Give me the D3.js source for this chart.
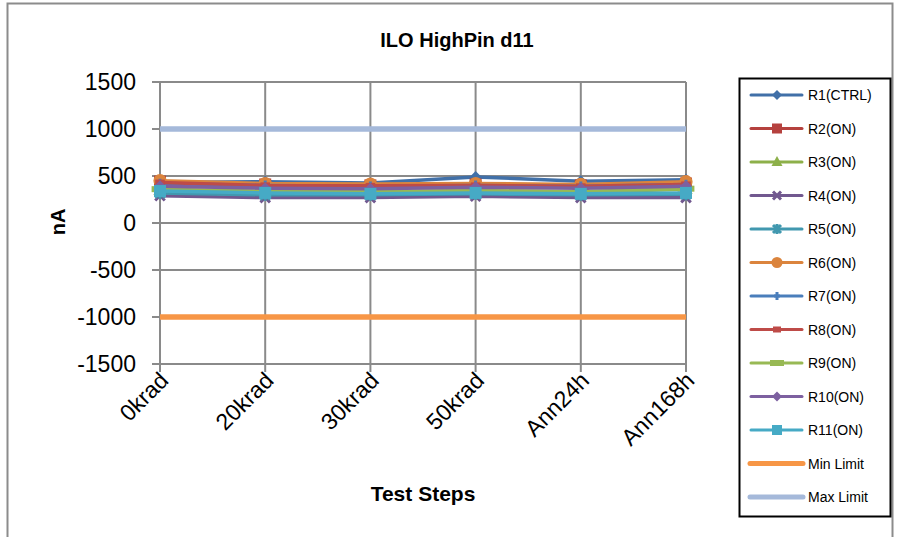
<!DOCTYPE html>
<html><head><meta charset="utf-8">
<script src="https://cdn.jsdelivr.net/npm/d3@7"></script>
<style>body{margin:0;background:#fff}svg{display:block}</style>
</head><body>
<script>
const categories = ["0krad","20krad","30krad","50krad","Ann24h","Ann168h"];
const seriesNames = ["R1(CTRL)","R2(ON)","R3(ON)","R4(ON)","R5(ON)","R6(ON)","R7(ON)","R8(ON)","R9(ON)","R10(ON)","R11(ON)","Min Limit","Max Limit"];
const R1  = [430, 440, 425, 490, 445, 460];
const R2  = [440, 410, 400, 410, 400, 420];
const R3  = [350, 330, 330, 340, 330, 360];
const R4  = [290, 270, 270, 285, 270, 270];
const R5  = [320, 300, 300, 310, 300, 305];
const R6  = [450, 420, 415, 420, 410, 440];
const R7  = [420, 400, 390, 400, 390, 410];
const R8  = [430, 400, 395, 400, 390, 410];
const R9  = [360, 340, 335, 345, 335, 365];
const R10 = [390, 370, 365, 380, 370, 390];
const R11 = [340, 320, 310, 320, 310, 320];
const MinLimit = [-1000,-1000,-1000,-1000,-1000,-1000];
const MaxLimit = [1000,1000,1000,1000,1000,1000];
const yTicks = [-1500,-1000,-500,0,500,1000,1500];

const values = [R1,R2,R3,R4,R5,R6,R7,R8,R9,R10,R11,MinLimit,MaxLimit];
const colors = ["#4170A8","#B5413E","#8DB04A","#71588F","#4198AF","#DB843D","#4A7EBB","#BE4B48","#98B954","#7D60A0","#46AAC5","#F79646","#A5B9DA"];
const markers = ["diamond","square","triangle","x","star","circle","plus","dash","longdash","diamond","square",null,null];

const W=897,H=537;
const svg=d3.select("body").append("svg").attr("width",W).attr("height",H);
svg.append("rect").attr("x",7.5).attr("y",3.5).attr("width",885).attr("height",560)
  .attr("fill","#fff").attr("stroke","#8c8c8c").attr("stroke-width",2);

const L=160,R=686,T=82,B=364;
const x=d3.scalePoint().domain(categories).range([L,R]);
const y=d3.scaleLinear().domain([-1500,1500]).range([B,T]);

const font="'Liberation Sans', Arial, sans-serif";
const grid="#8a8a8a";
svg.append("g").selectAll("line").data(yTicks).join("line")
  .attr("x1",L-8).attr("x2",R).attr("y1",d=>y(d)).attr("y2",d=>y(d))
  .attr("stroke",grid).attr("stroke-width",2);
svg.append("g").selectAll("line").data(categories).join("line")
  .attr("x1",d=>x(d)).attr("x2",d=>x(d)).attr("y1",T).attr("y2",B+8)
  .attr("stroke",grid).attr("stroke-width",2);

svg.append("g").selectAll("text").data(yTicks).join("text")
  .attr("x",136).attr("y",d=>y(d)).attr("dy","0.36em").attr("text-anchor","end")
  .attr("font-family",font).attr("font-size",23).attr("fill","#000").text(d=>d);
svg.append("g").selectAll("text").data(categories).join("text")
  .attr("transform",d=>`translate(${x(d)+4},${B+12}) rotate(-45)`)
  .attr("text-anchor","end").attr("dy","0.36em")
  .attr("font-family",font).attr("font-size",23).attr("fill","#000").text(d=>d);

svg.append("text").attr("x",457).attr("y",47).attr("text-anchor","middle")
  .attr("font-family",font).attr("font-weight","bold").attr("font-size",20).text("ILO HighPin d11");
svg.append("text").attr("x",423).attr("y",501).attr("text-anchor","middle")
  .attr("font-family",font).attr("font-weight","bold").attr("font-size",21).text("Test Steps");
svg.append("text").attr("transform","translate(65,222) rotate(-90)").attr("text-anchor","middle")
  .attr("font-family",font).attr("font-weight","bold").attr("font-size",20).text("nA");

function drawMarker(g,type,cx,cy,color,s){
  s=s||1;
  if(type==="diamond"){g.append("path").attr("d",`M${cx},${cy-5*s}L${cx+5*s},${cy}L${cx},${cy+5*s}L${cx-5*s},${cy}Z`).attr("fill",color);}
  else if(type==="square"){g.append("rect").attr("x",cx-5*s).attr("y",cy-5*s).attr("width",10*s).attr("height",10*s).attr("fill",color);}
  else if(type==="triangle"){g.append("path").attr("d",`M${cx},${cy-6*s}L${cx+5.5*s},${cy+4*s}L${cx-5.5*s},${cy+4*s}Z`).attr("fill",color);}
  else if(type==="x"){g.append("path").attr("d",`M${cx-4*s},${cy-4*s}L${cx+4*s},${cy+4*s}M${cx+4*s},${cy-4*s}L${cx-4*s},${cy+4*s}`).attr("stroke",color).attr("stroke-width",3);}
  else if(type==="star"){g.append("path").attr("d",`M${cx-4*s},${cy-4*s}L${cx+4*s},${cy+4*s}M${cx+4*s},${cy-4*s}L${cx-4*s},${cy+4*s}M${cx},${cy-5*s}L${cx},${cy+5*s}`).attr("stroke",color).attr("stroke-width",3);}
  else if(type==="circle"){g.append("circle").attr("cx",cx).attr("cy",cy).attr("r",5.5*s).attr("fill",color);}
  else if(type==="plus"){g.append("path").attr("d",`M${cx-3*s},${cy}L${cx+3*s},${cy}M${cx},${cy-4*s}L${cx},${cy+4*s}`).attr("stroke",color).attr("stroke-width",3);}
  else if(type==="dash"){g.append("rect").attr("x",cx-4*s).attr("y",cy-3).attr("width",8*s).attr("height",6).attr("fill",color);}
  else if(type==="longdash"){g.append("rect").attr("x",cx-7*s).attr("y",cy-3).attr("width",14*s).attr("height",6).attr("fill",color);}
}

const line=d3.line().x((d,i)=>x(categories[i])).y(d=>y(d));
const plot=svg.append("g");
[11,12].forEach(k=>{
  plot.append("path").attr("d",line(values[k])).attr("fill","none").attr("stroke",colors[k]).attr("stroke-width",5.5);
});
for(let k=0;k<11;k++){
  const g=plot.append("g");
  g.append("path").attr("d",line(values[k])).attr("fill","none").attr("stroke",colors[k]).attr("stroke-width",3.5).attr("stroke-linejoin","round");
  values[k].forEach((v,i)=>drawMarker(g,markers[k],x(categories[i]),y(v),colors[k],1.2));
}

const lg=svg.append("g");
lg.append("rect").attr("x",739.5).attr("y",78.5).attr("width",151).attr("height",438)
  .attr("fill","#fff").attr("stroke","#000").attr("stroke-width",2);
seriesNames.forEach((n,k)=>{
  const yy=95+k*33.5;
  const isLim=k>=11;
  lg.append("line").attr("x1",isLim?750:751).attr("x2",isLim?803:802).attr("y1",yy).attr("y2",yy)
    .attr("stroke",colors[k]).attr("stroke-width",isLim?5:3).attr("stroke-linecap","round");
  if(markers[k]) drawMarker(lg,markers[k],777,yy,colors[k],1);
  lg.append("text").attr("x",808).attr("y",yy).attr("dy","0.36em")
    .attr("font-family",font).attr("font-size",14).attr("fill","#000").text(n);
});
</script>
</body></html>
